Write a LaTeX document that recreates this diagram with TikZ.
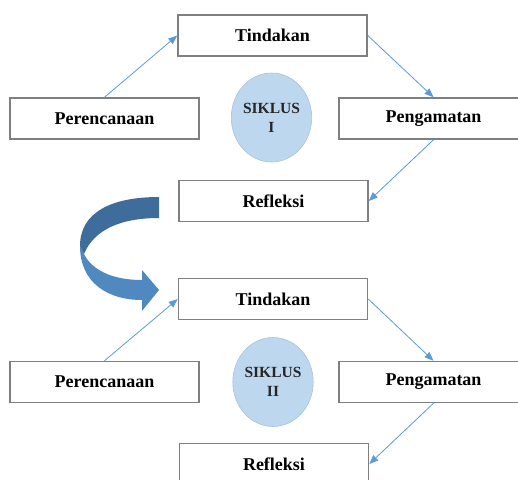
\documentclass[tikz,border=0pt]{standalone}
\usepackage{fontspec}
\setmainfont{Liberation Serif}
\usetikzlibrary{arrows.meta,shapes.geometric}
\definecolor{boxline}{HTML}{7F7F7F}
\definecolor{arrowblue}{HTML}{5B9BD5}
\definecolor{cyclefill}{HTML}{BDD7EE}
\definecolor{cycleline}{HTML}{A9C4DE}
\definecolor{darkribbon}{HTML}{3E6D9B}
\definecolor{lightribbon}{HTML}{4F89C0}
\definecolor{cycletext}{HTML}{262626}
\begin{document}
\begin{tikzpicture}[x=1pt,y=-1pt,
  stagebox/.style={draw=boxline, line width=1.5pt, fill=white, minimum width=189pt, minimum height=41pt, inner sep=0pt, font=\fontsize{18}{20}\selectfont\bfseries},
  cycle/.style={ellipse, fill=cyclefill, draw=cycleline, line width=0.6pt, minimum width=79pt, minimum height=89pt, inner sep=0pt, align=center, text=cycletext, font=\fontsize{15.5}{19}\selectfont\bfseries},
  flow/.style={draw=arrowblue, line width=0.8pt, -{Triangle[length=9pt,width=7pt]}}
]
\useasboundingbox (0,0) rectangle (518,479);
\clip (0,0) rectangle (518,479);
\fill[white] (0,0) rectangle (518,479);

% cycle I
\node[stagebox] (t1) at (272.5,35.5) {Tindakan};
\node[stagebox] (p1) at (104.5,118.5) {Perencanaan};
\node[stagebox] (g1) at (433.5,118.5) {Pengamatan};
\node[stagebox] (r1) at (273.5,201) {Refleksi};
\node[cycle] (c1) at (271.5,117.5) {SIKLUS\\I};

\draw[flow] (p1.north) -- (t1.west);
\draw[flow] (t1.east) -- (g1.north);
\draw[flow] (g1.south) -- (r1.east);

% cycle II
\node[stagebox] (t2) at (273,299) {Tindakan};
\node[stagebox] (p2) at (104.5,382) {Perencanaan};
\node[stagebox] (g2) at (433.5,382) {Pengamatan};
\node[stagebox] (r2) at (274,464) {Refleksi};
\node[cycle] (c2) at (273,382) {SIKLUS\\II};

\draw[flow] (p2.north) -- (t2.west);
\draw[flow] (t2.east) -- (g2.north);
\draw[flow] (g2.south) -- (r2.east);

% curved ribbon arrow between cycles
\fill[lightribbon] (80,246) .. controls (80,283) and (108,300) .. (142,300)
  -- (142,311) -- (159,290) -- (142,270) -- (142,280)
  .. controls (112,280) and (92,270) .. (84,254) -- cycle;
\fill[darkribbon] (159,197) .. controls (112,197) and (80,212) .. (80,246)
  -- (84,254) .. controls (94,230) and (120,218) .. (159,218) -- cycle;
\end{tikzpicture}
\end{document}
